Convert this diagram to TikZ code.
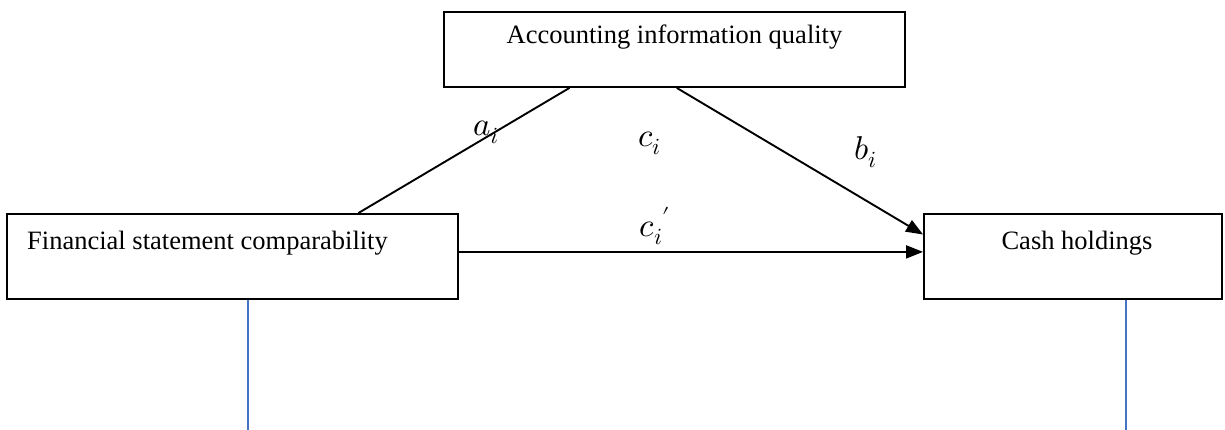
\documentclass[tikz,border=0pt]{standalone}
\usepackage{fontspec}
\setmainfont{Liberation Serif}
\usepackage{unicode-math}
\usetikzlibrary{arrows.meta,calc}
\definecolor{linkblue}{RGB}{68,114,196}
\begin{document}
\begin{tikzpicture}[x=1pt,y=-1pt,
  box/.style={draw=black,line width=1.9pt,rectangle,inner sep=0pt},
  boxtext/.style={font=\fontsize{26.5}{30}\selectfont,inner sep=0pt},
  coef/.style={font=\fontsize{33}{36}\selectfont,inner sep=0pt},
  path/.style={draw=black,line width=1.9pt},
  arr/.style={path,-{Triangle[length=17pt,width=13pt]}},
  tie/.style={draw=linkblue,line width=1.5pt}]
\useasboundingbox (0,0) rectangle (1225,430);

% boxes
\node[box,minimum width=461pt,minimum height=75pt] (aiq) at (674.5,49.5) {};
\node[box,minimum width=451pt,minimum height=85pt] (fsc) at (232.5,256.5) {};
\node[box,minimum width=298pt,minimum height=85pt] (cash) at (1073,256.5) {};

% box texts
\node[boxtext] (aiqtext) at (674.5,37) {Accounting information quality};
\node[boxtext,anchor=west] (fsctext) at (27,243) {Financial statement comparability};
\node[boxtext] (cashtext) at (1077,243) {Cash holdings};

% paths
\coordinate (aout) at ($(aiq.south west)!0.273!(aiq.south east)$);
\coordinate (ain) at ($(fsc.north west)!0.778!(fsc.north east)$);
\coordinate (bout) at ($(aiq.south west)!0.505!(aiq.south east)$);
\coordinate (bin) at ($(cash.north west)!0.247!(cash.south west)$);
\coordinate (cout) at ($(fsc.north east)!0.447!(fsc.south east)$);
\coordinate (cin) at ($(cash.north west)!0.447!(cash.south west)$);
\draw[path] (aout) -- (ain);
\draw[arr] (bout) -- (bin);
\draw[arr] (cout) -- (cin);

% coefficients
\node[coef] (alab) at (486,132) {$a_i$};
\node[coef] (clab) at (650,143) {$c_i$};
\node[coef] (blab) at (866,152) {$b_i$};
\node[coef] (cplab) at (655,226) {${c_i}'$};

% vertical ties below the side boxes
\coordinate (fscend) at (248,430);
\coordinate (cashend) at (1126,430);
\draw[tie] (fsc.south -| fscend) -- (fscend);
\draw[tie] (cash.south -| cashend) -- (cashend);
\end{tikzpicture}
\end{document}
